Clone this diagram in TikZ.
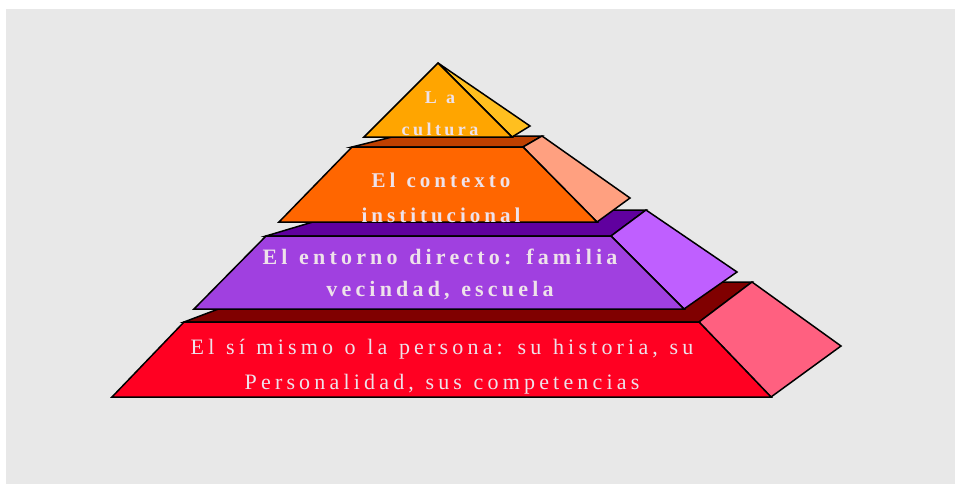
\documentclass[tikz,border=0pt]{standalone}
\usepackage{fontspec}
\setmainfont{Liberation Serif}
\newfontfamily\spacedfont[LetterSpace=19,WordSpace=1.2]{Liberation Serif}

\definecolor{bggray}{HTML}{E8E8E8}
\definecolor{cultfront}{HTML}{FFA500}
\definecolor{cultside}{HTML}{FFBF1F}
\definecolor{ctxfront}{HTML}{FF6600}
\definecolor{ctxtop}{HTML}{BF4000}
\definecolor{ctxside}{HTML}{FFA080}
\definecolor{entfront}{HTML}{A040E0}
\definecolor{enttop}{HTML}{60009F}
\definecolor{entside}{HTML}{BF5FFF}
\definecolor{perfront}{HTML}{FF0022}
\definecolor{pertop}{HTML}{800000}
\definecolor{perside}{HTML}{FF6080}
\definecolor{lblcol}{HTML}{EEE2EA}

\begin{document}
\begin{tikzpicture}[x=1pt,y=-1pt,
  face/.style={draw=black,line width=1.5pt},
  lbl/.style={text=lblcol,align=center,inner sep=0pt}]
  \useasboundingbox (0,0) rectangle (955,484);
  \fill[white] (0,0) rectangle (955,484);
  \fill[bggray] (6,9) rectangle (955,484);

  % la persona
  \filldraw[face,fill=pertop] (184,322) -- (290,282) -- (752,282) -- (699,322) -- cycle;
  \filldraw[face,fill=perside] (699,322) -- (752,282) -- (841,346) -- (771,397) -- cycle;
  \filldraw[face,fill=perfront] (184,322) -- (699,322) -- (771,397) -- (112,397) -- cycle;
  \node[lbl,font=\spacedfont\fontsize{22}{35}\selectfont] (persona) at (442,367)
    {El sí mismo o la persona: su historia, su\\Personalidad, sus competencias};

  % el entorno
  \filldraw[face,fill=enttop] (266,236) -- (353,210) -- (646,210) -- (611,236) -- cycle;
  \filldraw[face,fill=entside] (611,236) -- (646,210) -- (737,272) -- (684,309) -- cycle;
  \filldraw[face,fill=entfront] (266,236) -- (611,236) -- (684,309) -- (194,309) -- cycle;
  \node[lbl,font=\spacedfont\bfseries\fontsize{22}{32}\selectfont] (entorno) at (440,274)
    {El entorno directo: familia\\vecindad, escuela};

  % el contexto
  \filldraw[face,fill=ctxtop] (352,147) -- (396,136) -- (542,136) -- (523,147) -- cycle;
  \filldraw[face,fill=ctxside] (523,147) -- (542,136) -- (630,198) -- (597,222) -- cycle;
  \filldraw[face,fill=ctxfront] (352,147) -- (523,147) -- (597,222) -- (279,222) -- cycle;
  \node[lbl,font=\spacedfont\bfseries\fontsize{21}{35}\selectfont] (contexto) at (441,198)
    {El contexto\\institucional};

  % la cultura
  \filldraw[face,fill=cultside] (438,63) -- (530,126) -- (512,137) -- cycle;
  \filldraw[face,fill=cultfront] (438,63) -- (364,137) -- (512,137) -- cycle;
  \node[lbl,font=\spacedfont\bfseries\fontsize{18}{32}\selectfont] (cultura) at (440,114)
    {L a\\cultura};
\end{tikzpicture}
\end{document}
